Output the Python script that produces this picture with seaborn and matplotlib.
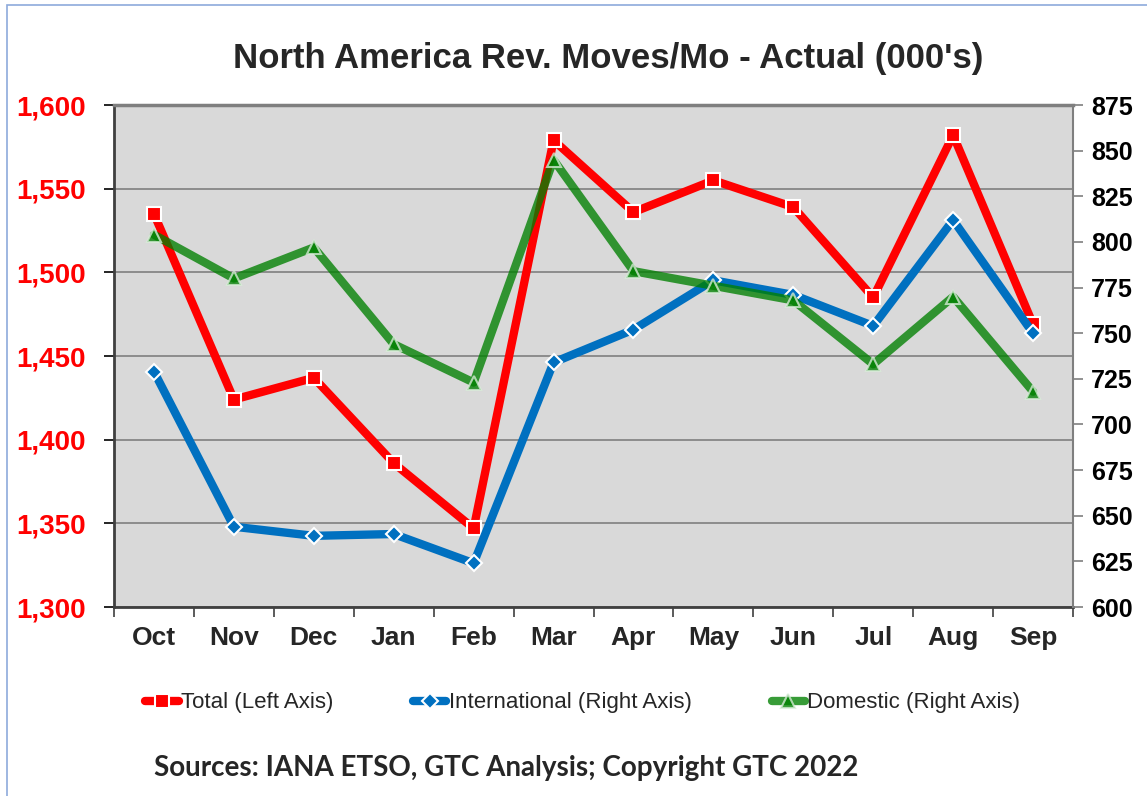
import matplotlib
matplotlib.use('Agg')
import matplotlib.pyplot as plt
from matplotlib.patches import Rectangle
from matplotlib.lines import Line2D
from matplotlib.ticker import FixedLocator, FuncFormatter
import seaborn as sns
import pandas as pd

# Monthly revenue moves (000's)
months = ['Oct', 'Nov', 'Dec', 'Jan', 'Feb', 'Mar', 'Apr', 'May', 'Jun', 'Jul', 'Aug', 'Sep']
total = [1535, 1424, 1437, 1386, 1347, 1579, 1536, 1555, 1539, 1485, 1582, 1469]
international = [729, 644, 639, 640, 624, 734, 752, 779, 771, 754, 812, 750]
domestic = [804, 780, 797, 744, 723, 845, 784, 776, 768, 733, 770, 718]

df = pd.DataFrame({'pos': range(len(months)), 'month': months,
                   'total': total, 'international': international, 'domestic': domestic})

sns.set_style('ticks')
plt.rcParams['font.family'] = ['Liberation Sans', 'DejaVu Sans']

fig = plt.figure(figsize=(11.47, 7.96), dpi=100)
ax = fig.add_axes([0.0994, 0.2374, 0.8361, 0.6306])
ax2 = ax.twinx()

red = '#FF0000'
blue = '#0070C0'
green = '#008000'

sns.lineplot(data=df, x='pos', y='total', ax=ax, color=red, lw=6, marker='s', ms=10,
             mec='white', mew=1.5, zorder=3)
sns.lineplot(data=df, x='pos', y='international', ax=ax2, color=blue, lw=6, marker='D', ms=8,
             mec='white', mew=1.5, mfc=blue, zorder=3)
sns.lineplot(data=df, x='pos', y='domestic', ax=ax2, color=green, lw=6, marker='^', ms=10,
             mec='#d8ecd8', mew=1.5, alpha=0.78, zorder=4)

ax.set_facecolor('#D9D9D9')
ax2.patch.set_visible(False)
ax.set_xlim(-0.5, 11.5)
ax.set_ylim(1300, 1600)
ax2.set_ylim(600, 875)

# left axis
ax.set_yticks([1300, 1350, 1400, 1450, 1500, 1550, 1600])
ax.yaxis.set_major_formatter(FuncFormatter(lambda v, p: '{:,.0f}'.format(v)))
ax.tick_params(axis='y', colors='black', labelcolor=red, labelsize=20, length=7, width=1.2, pad=13)
for t in ax.get_yticklabels():
    t.set_fontweight('bold')
ax.grid(axis='y', color='#7f7f7f', lw=1.2)
ax.set_axisbelow(True)

# right axis
ax2.set_yticks(range(600, 876, 25))
ax2.tick_params(axis='y', colors='#7f7f7f', labelcolor='black', labelsize=18, length=7, width=1.2, pad=6)
for t in ax2.get_yticklabels():
    t.set_fontweight('bold')

# x axis: labels at centres, ticks between categories
ax.set_xticks(range(len(months)))
ax.set_xticklabels(months, fontsize=19, fontweight='bold')
ax.tick_params(axis='x', length=0, pad=14)
ax.xaxis.set_minor_locator(FixedLocator([i + 0.5 for i in range(-1, 12)]))
ax.tick_params(axis='x', which='minor', length=7, width=1.2, color='#404040')

ax.set_xlabel('')
ax.set_ylabel('')
ax2.set_ylabel('')

for s in ['left', 'bottom']:
    ax.spines[s].set_color('#404040')
    ax.spines[s].set_linewidth(2)
ax.spines['top'].set_color('#7f7f7f')
ax.spines['top'].set_linewidth(2.5)
ax.spines['right'].set_visible(False)
ax2.spines['right'].set_color('#7f7f7f')
ax2.spines['right'].set_linewidth(1.5)
for s in ['left', 'bottom', 'top']:
    ax2.spines[s].set_visible(False)

handles = [
    Line2D([], [], color=red, lw=6, marker='s', ms=10, mec='white', mew=1.5),
    Line2D([], [], color=blue, lw=6, marker='D', ms=8, mec='white', mew=1.5),
    Line2D([], [], color=green, lw=6, marker='^', ms=10, mec='#d8ecd8', mew=1.5, alpha=0.78),
]
labels = ['Total (Left Axis)', 'International (Right Axis)', 'Domestic (Right Axis)']
fig.legend(handles, labels, loc='center', bbox_to_anchor=(0.508, 0.117), ncol=3, frameon=False,
           fontsize=16, handlelength=1.5, handletextpad=0.1, columnspacing=3.6)

fig.text(0.53, 0.927, "North America Rev. Moves/Mo - Actual (000's)", ha='center', va='center',
         fontsize=25, fontweight='bold')
fig.text(0.441, 0.035, 'Sources: IANA ETSO, GTC Analysis; Copyright GTC 2022', ha='center', va='center',
         fontsize=20, fontweight='bold', family=['Lato', 'DejaVu Sans'])

fig.patches.append(Rectangle((0.006, -0.1), 1.2, 1.094, transform=fig.transFigure,
                             fill=False, edgecolor='#8EAADB', lw=1.2))

fig.savefig('out.png', dpi=100)
